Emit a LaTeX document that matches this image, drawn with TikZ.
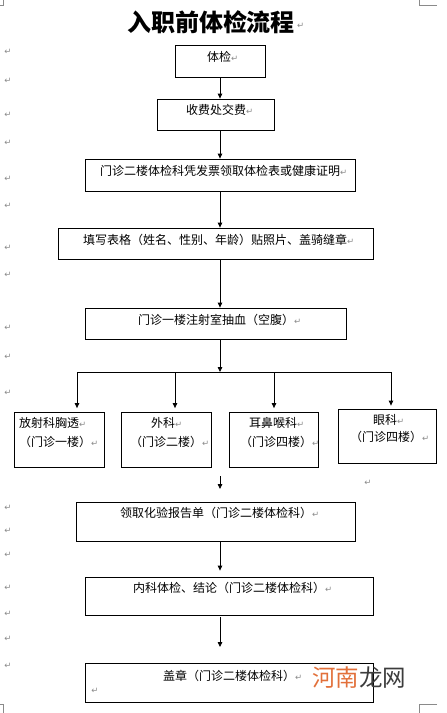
\documentclass[tikz,border=0pt]{standalone}
\usepackage{fontspec}
\usetikzlibrary{arrows.meta}
\newfontfamily\cjk{Noto Sans CJK SC}
\newfontfamily\symf{DejaVu Sans}
\definecolor{markgray}{HTML}{8A8A8A}
\definecolor{wmorange}{HTML}{E2703A}
\definecolor{wmgray}{HTML}{3C3C3C}
\newcommand\ret{{\symf\fontsize{8.5}{9}\selectfont\color{markgray}↵}}
\tikzset{
  box/.style={draw, line width=0.8pt, inner sep=0pt},
  txt/.style={font=\cjk\fontsize{12}{14}\selectfont, inner sep=0pt, anchor=west},
  arr/.style={line width=0.8pt, -{Triangle[length=5pt,width=4.5pt]}},
  bus/.style={line width=0.8pt},
  pmark/.style={font=\symf\fontsize{8.5}{9}\selectfont, text=markgray, inner sep=0pt},
  crop/.style={draw=markgray, line width=0.6pt}
}
\begin{document}
\begin{tikzpicture}[x=1pt,y=-1pt]
\useasboundingbox (0,0) rectangle (447,713);
% crop marks
\draw[crop] (0,5) -- (3,5) -- (3,0);
\draw[crop] (419,0) -- (419,5) -- (437,5);
\draw[crop] (0,704) -- (3,704) -- (3,713);
\draw[crop] (437,704) -- (419,704) -- (419,713);
% paragraph marks in margin
\foreach \yy [count=\i] in {52,81,115,143,179,206,248,275,328,357,393,508,531,555,588,614,639,666}
  \node[pmark] (pm\i) at (8,\yy) {↵};
\node[pmark] (pmx) at (368,483) {↵};
% title
\node[font=\cjk\bfseries\fontsize{24}{28}\selectfont, inner sep=0pt] (title) at (211,22) {入职前体检流程};
\node[pmark, anchor=west] (tret) at (297,26) {↵};
% boxes
\node[box, minimum width=90pt, minimum height=32pt] (b1) at (220,61) {};
\node[box, minimum width=117pt, minimum height=31pt] (b2) at (215.5,114.5) {};
\node[box, minimum width=270pt, minimum height=32pt] (b3) at (220,175) {};
\node[box, minimum width=315pt, minimum height=31pt] (b4) at (215.5,243.5) {};
\node[box, minimum width=261pt, minimum height=31pt] (b5) at (215.5,323.5) {};
\node[box, minimum width=90pt, minimum height=55pt] (b6) at (59,439.5) {};
\node[box, minimum width=90pt, minimum height=55pt] (b7) at (166,439.5) {};
\node[box, minimum width=89pt, minimum height=55pt] (b8) at (273.5,439.5) {};
\node[box, minimum width=98pt, minimum height=54pt] (b9) at (387,436) {};
\node[box, minimum width=279pt, minimum height=39pt] (b10) at (215.5,521.5) {};
\node[box, minimum width=288pt, minimum height=38pt] (b11) at (229,596) {};
\node[box, minimum width=288pt, minimum height=39pt] (b12) at (229,682.5) {};
% texts
\node[txt] (t1) at (207,57) {体检\ret};
\node[txt] (t2) at (186,110) {收费处交费\ret};
\node[txt] (t3) at (100,171) {门诊二楼体检科凭发票领取体检表或健康证明\ret};
\node[txt] (t4) at (83,240) {填写表格（姓名、性别、年龄）贴照片、盖骑缝章\ret};
\node[txt] (t5) at (138,320) {门诊一楼注射室抽血（空腹）\ret};
\node[txt] (t6a) at (19,423) {放射科胸透\ret};
\node[txt] (t6b) at (19,442) {（门诊一楼）\ret};
\node[txt] (t7a) at (151,423) {外科\ret};
\node[txt] (t7b) at (130,442) {（门诊二楼）\ret};
\node[txt] (t8a) at (249,423) {耳鼻喉科\ret};
\node[txt] (t8b) at (240,442) {（门诊四楼）\ret};
\node[txt] (t9a) at (373,420) {眼科\ret};
\node[txt] (t9b) at (350,437) {（门诊四楼）\ret};
\node[txt] (t10) at (120,513) {领取化验报告单（门诊二楼体检科）\ret};
\node[txt] (t11) at (133,588) {内科体检、结论（门诊二楼体检科）\ret};
\node[txt] (t12) at (163,676) {盖章（门诊二楼体检科）\ret};
\node[pmark] (t12r) at (95,691) {↵};
% connectors
\coordinate (cx) at (220,0);
\draw[arr] (b1.south) -- (cx |- b2.north);
\draw[arr] (cx |- b2.south) -- (b3.north);
\draw[arr] (b3.south) -- (cx |- b4.north);
\draw[arr] (cx |- b4.south) -- (cx |- b5.north);
\coordinate (j0) at (220,372);
\coordinate (j1) at (77,372);
\coordinate (j2) at (175,372);
\coordinate (j3) at (274,372);
\coordinate (j4) at (391,372);
\draw[arr] (cx |- b5.south) -- (j0);
\draw[bus] (j1) -- (j4);
\draw[arr, shorten >=3.5pt] (j1) -- (j1 |- b6.north);
\draw[arr, shorten >=3.5pt] (j2) -- (j2 |- b7.north);
\draw[arr, shorten >=3.5pt] (j3) -- (j3 |- b8.north);
\draw[arr, shorten >=3pt] (j4) -- (j4 |- b9.north);
\coordinate (r1) at (220,476);
\coordinate (r2) at (220,489);
\draw[arr] (r1) -- (r2);
\draw[arr, shorten >=6pt] (cx |- b10.south) -- (cx |- b11.north);
\coordinate (s1) at (220,617);
\coordinate (s2) at (220,647);
\draw[arr] (s1) -- (s2);
% watermark
\node[font=\cjk\fontsize{23.5}{26}\selectfont, inner sep=0pt] (wm) at (359,678) {\textcolor{wmorange}{河南}\textcolor{wmgray}{龙网}};
\end{tikzpicture}
\end{document}
